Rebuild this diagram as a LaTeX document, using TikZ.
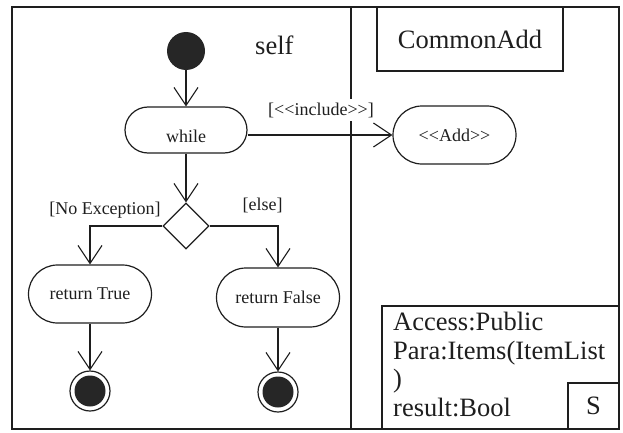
\documentclass[tikz,border=0pt]{standalone}
\usepackage{fontspec}
\setmainfont{Liberation Serif}
\usetikzlibrary{arrows.meta,shapes.misc,shapes.geometric}
\definecolor{ink}{RGB}{30,30,30}
\definecolor{dot}{RGB}{38,38,38}
\newcommand\dlt{<\kern0pt<}
\newcommand\dgt{>\kern0pt>}
\begin{document}
\begin{tikzpicture}[x=1pt,y=-1pt,
  every node/.style={text=ink},
  flow/.style={draw=ink,line width=1.1pt,
    -{Straight Barb[length=18pt,width=24pt,line width=1.1pt]}},
  small/.style={font=\fontsize{18}{20}\selectfont},
  big/.style={font=\fontsize{26.5}{29}\selectfont},
  action/.style={rounded rectangle,draw=ink,line width=1.2pt,small,
    minimum width=123pt,minimum height=58pt,inner sep=0pt},
  guard/.style={small,inner sep=2pt},
  initial/.style={circle,fill=dot,minimum size=38pt,inner sep=0pt},
  final/.style={circle,draw=ink,line width=1.2pt,minimum size=40pt,inner sep=0pt,
    path picture={\fill[dot] (path picture bounding box.center) circle (15.5pt);}},
  decision/.style={diamond,draw=ink,line width=1.2pt,aspect=1,
    minimum width=46pt,minimum height=46pt,inner sep=0pt},
  box/.style={draw=ink,line width=1.2pt,inner sep=0pt,big},
]
\useasboundingbox (0,0) rectangle (623,433);

% swimlane frame and divider
\draw[ink,line width=1.5pt] (12,7) rectangle (619,429);
\draw[ink,line width=2.8pt] (351,7) -- (351,429);

% left lane: self
\node[big,anchor=base west,inner sep=0pt] (self) at (255,55) {self};
\node[initial] (start) at (186,51) {};
\node[action,minimum width=122pt,minimum height=46pt] (while) at (186,130)
  {\raisebox{-6pt}[\height][\depth]{while}};
\node[decision] (dec) at (186,226) {};
\node[action] (rt) at (90,294) {return True};
\node[action,minimum height=59pt] (rf) at (278,297.5) {return False};
\node[final] (endT) at (90,391) {};
\node[final] (endF) at (278,392) {};

% right lane: CommonAdd
\node[box,minimum width=186pt,minimum height=64pt] (lane) at (470,39) {CommonAdd};
\node[action] (add) at (454.5,135) {\dlt Add\dgt};

% flows
\draw[flow] (start) -- (while.north);
\draw[flow] (while.south) -- (dec.north);
\draw[flow] (dec.west) -| (rt.north);
\draw[flow] (dec.east) -| (rf.north);
\draw[flow] (rt.south) -- (endT.north);
\draw[flow] (rf.south) -- (endF.north);
\draw[flow] (add.west -| while.east) -- (add.west);

% guards
\node[guard,fill=white,inner sep=4pt] (inc) at (321,110) {[\dlt include\dgt]};
\node[guard] (gno) at (105,210.5) {[No Exception]};
\node[guard] (gelse) at (262.5,205) {[else]};

% property box
\draw[ink,line width=1.2pt] (382,429) -- (382,306) -- (619,306);
\node[big,anchor=base west,inner sep=0pt] (p1) at (393,330) {Access:Public};
\node[big,anchor=base west,inner sep=0pt] (p2) at (393,359) {Para:Items(ItemList};
\node[big,anchor=base west,inner sep=0pt] (p3) at (393,387) {)};
\node[big,anchor=base west,inner sep=0pt] (p4) at (393,416) {result:Bool};
\node[box,minimum width=51pt,minimum height=46pt] (stereo) at (593.5,406) {S};
\end{tikzpicture}
\end{document}
